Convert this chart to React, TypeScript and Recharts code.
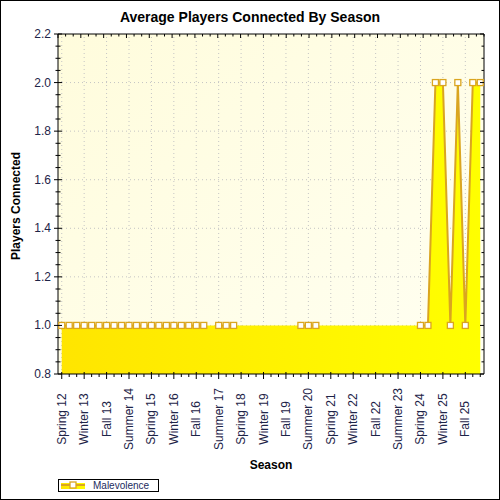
import React from 'react'
import {
  ComposedChart, Area, Line, XAxis, YAxis, CartesianGrid, ReferenceLine,
} from 'recharts'

// seasons on the category axis, one per quarter
const seasons = [
  'Spring 12', 'Summer 12', 'Fall 12', 'Winter 13', 'Spring 13', 'Summer 13', 'Fall 13', 'Winter 14',
  'Spring 14', 'Summer 14', 'Fall 14', 'Winter 15', 'Spring 15', 'Summer 15', 'Fall 15', 'Winter 16',
  'Spring 16', 'Summer 16', 'Fall 16', 'Winter 17', 'Spring 17', 'Summer 17', 'Fall 17', 'Winter 18',
  'Spring 18', 'Summer 18', 'Fall 18', 'Winter 19', 'Spring 19', 'Summer 19', 'Fall 19', 'Winter 20',
  'Spring 20', 'Summer 20', 'Fall 20', 'Winter 21', 'Spring 21', 'Summer 21', 'Fall 21', 'Winter 22',
  'Spring 22', 'Summer 22', 'Fall 22', 'Winter 23', 'Spring 23', 'Summer 23', 'Fall 23', 'Winter 24',
  'Spring 24', 'Summer 24', 'Fall 24', 'Winter 25', 'Spring 25', 'Summer 25', 'Fall 25', 'Winter 26',
  'Spring 26',
]

// Malevolence, average players connected (null = no games that season)
const malevolence = [
  1, 1, 1, 1, 1, 1, 1, 1, 1, 1, 1, 1, 1, 1, 1, 1, 1, 1, 1, 1,
  null, 1, 1, 1,
  null, null, null, null, null, null, null, null,
  1, 1, 1,
  null, null, null, null, null, null, null, null, null, null, null, null, null,
  1, 1, 2, 2, 1, 2, 1, 2, 2,
]

const yTicks = [
  0.8, 0.85, 0.9, 0.95, 1.0, 1.05, 1.1, 1.15, 1.2, 1.25, 1.3, 1.35, 1.4, 1.45, 1.5,
  1.55, 1.6, 1.65, 1.7, 1.75, 1.8, 1.85, 1.9, 1.95, 2.0, 2.05, 2.1, 2.15, 2.2,
]
const yGrid = [1.0, 1.2, 1.4, 1.6, 1.8, 2.0]

const xTicks = seasons.map((_, i) => i)
const xGrid = xTicks.filter(i => i % 3 === 0)

const data = seasons.map((s, i) => ({ idx: i, season: s, players: malevolence[i] }))

const LINE = '#DAA520'
const LABEL = '#1e2448'
const FONT = '"Liberation Sans", Arial, sans-serif'

const isMajorY = (v: number) => Math.abs(v * 5 - Math.round(v * 5)) < 1e-6

const BottomTick = ({ x, y, payload }: any) => {
  const i = payload.value
  const major = i % 3 === 0
  return (
    <g>
      <line x1={x} x2={x} y1={major ? y - 2 : y} y2={major ? y + 5 : y + 3} stroke="#000" />
      {major && (
        <text
          transform={`translate(${x},${y + 45}) rotate(-90)`}
          textAnchor="middle"
          dominantBaseline="central"
          fontSize={12}
          fontFamily={FONT}
          fill={LABEL}
        >
          {seasons[i]}
        </text>
      )}
    </g>
  )
}

const TopTick = ({ x, y, payload }: any) => {
  const major = payload.value % 3 === 0
  return <line x1={x} x2={x} y1={y} y2={y + (major ? 4 : 2.5)} stroke="#000" />
}

const LeftTick = ({ x, y, payload }: any) => {
  const v = payload.value
  const major = isMajorY(v)
  return (
    <g>
      <line x1={x - (major ? 4 : 2.5)} x2={x + (major ? 4 : 2.5)} y1={y} y2={y} stroke="#000" />
      {major && (
        <text x={x - 7} y={y} textAnchor="end" dominantBaseline="central" fontSize={12} fontFamily={FONT} fill={LABEL}>
          {v.toFixed(1)}
        </text>
      )}
    </g>
  )
}

const RightTick = ({ x, y, payload }: any) => {
  const major = isMajorY(payload.value)
  return <line x1={x - (major ? 4 : 2.5)} x2={x} y1={y} y2={y} stroke="#000" />
}

const Marker = (props: any) => {
  const { cx, cy, value, index } = props
  if (value == null || cy == null) return <g key={`m${index}`} />
  return (
    <rect key={`m${index}`} x={cx - 3} y={cy - 3} width={6} height={6} fill="#fff" stroke={LINE} strokeWidth={1.3} />
  )
}

export default function App() {
  return (
    <div style={{ position: 'absolute', left: 0, top: 0, width: 500, height: 500, background: '#fff' }}>
      <ComposedChart
        width={500}
        height={500}
        data={data}
        margin={{ top: 33, right: 15, bottom: 26, left: 0 }}
      >
        <defs>
          <linearGradient id="plotBg" x1="0" y1="0" x2="1" y2="1">
            <stop offset="0%" stopColor="#fffcdc" />
            <stop offset="100%" stopColor="#fffff2" />
          </linearGradient>
          <linearGradient id="areaFill" x1="0" y1="0" x2="1" y2="0">
            <stop offset="0%" stopColor="#ffe500" />
            <stop offset="100%" stopColor="#ffff00" />
          </linearGradient>
        </defs>
        <CartesianGrid horizontal={false} vertical={false} fill="url(#plotBg)" />
        {xGrid.map(i => (
          <ReferenceLine key={`gx${i}`} x={i} stroke="#c4c4c4" strokeDasharray="1 3" zIndex={-50} />
        ))}
        {yGrid.map(v => (
          <ReferenceLine key={`gy${v}`} y={v} stroke="#c4c4c4" strokeDasharray="1 3" zIndex={-50} />
        ))}
        <XAxis
          dataKey="idx"
          type="number"
          domain={[-0.5, 56.5]}
          allowDataOverflow
          ticks={xTicks}
          interval={0}
          height={100}
          tickSize={0}
          tickMargin={0}
          tickLine={false}
          axisLine={{ stroke: '#000' }}
          tick={<BottomTick />}
        />
        <XAxis
          xAxisId="top"
          orientation="top"
          type="number"
          domain={[-0.5, 56.5]}
          allowDataOverflow
          ticks={xTicks}
          interval={0}
          height={1}
          tickSize={0}
          tickMargin={0}
          tickLine={false}
          axisLine={{ stroke: '#000' }}
          tick={<TopTick />}
        />
        <YAxis
          type="number"
          domain={[0.8, 2.2]}
          allowDataOverflow
          ticks={yTicks}
          interval={0}
          width={58}
          tickSize={0}
          tickMargin={0}
          tickLine={false}
          axisLine={{ stroke: '#000' }}
          tick={<LeftTick />}
        />
        <YAxis
          yAxisId="right"
          orientation="right"
          type="number"
          domain={[0.8, 2.2]}
          allowDataOverflow
          ticks={yTicks}
          interval={0}
          width={1}
          tickSize={0}
          tickMargin={0}
          tickLine={false}
          axisLine={{ stroke: '#000' }}
          tick={<RightTick />}
        />
        <Area
          dataKey="players"
          type="linear"
          connectNulls
          stroke="none"
          fill="url(#areaFill)"
          fillOpacity={1}
          dot={false}
          activeDot={false}
          isAnimationActive={false}
        />
        <Line
          dataKey="players"
          type="linear"
          stroke={LINE}
          strokeWidth={2}
          connectNulls={false}
          dot={Marker}
          activeDot={false}
          isAnimationActive={false}
        />
      </ComposedChart>

      <svg
        width={500}
        height={500}
        style={{ position: 'absolute', left: 0, top: 0, pointerEvents: 'none' }}
      >
        <rect x={0.5} y={0.5} width={499} height={499} fill="none" stroke="#000" />
        <text x={250} y={22} textAnchor="middle" fontSize={14} fontWeight="bold" fontFamily={FONT} fill="#000">
          Average Players Connected By Season
        </text>
        <text
          transform="translate(20,206) rotate(-90)"
          textAnchor="middle"
          fontSize={12}
          fontWeight="bold"
          fontFamily={FONT}
          fill="#000"
        >
          Players Connected
        </text>
        <text x={271} y={469} textAnchor="middle" fontSize={12} fontWeight="bold" fontFamily={FONT} fill="#000">
          Season
        </text>
        <rect x={58.5} y={479.5} width={100} height={12} fill="#fff" stroke="#000" />
        <rect x={61} y={483} width={24} height={6} fill="url(#legendFill)" />
        <defs>
          <linearGradient id="legendFill" x1="0" y1="0" x2="1" y2="0">
            <stop offset="0%" stopColor="#ffe500" />
            <stop offset="100%" stopColor="#ffff00" />
          </linearGradient>
        </defs>
        <line x1={61} x2={85} y1={485} y2={485} stroke={LINE} strokeWidth={2} />
        <rect x={70} y={482} width={6} height={6} fill="#fff" stroke={LINE} strokeWidth={1.3} />
        <text x={93} y={489} fontSize={10} fontFamily={FONT} fill="#1c2c60">
          Malevolence
        </text>
      </svg>
    </div>
  )
}
